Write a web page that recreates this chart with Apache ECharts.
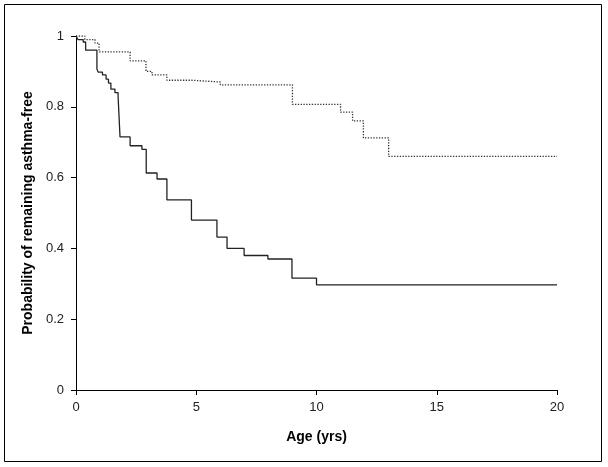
<!DOCTYPE html>
<html>
<head>
<meta charset="utf-8">
<script src="https://cdn.jsdelivr.net/npm/echarts@6/dist/echarts.min.js"></script>
<style>html,body{margin:0;padding:0;background:#fff;}#c{width:608px;height:467px;}</style>
</head>
<body>
<div id="c"></div>
<script>
// Kaplan-Meier style step curves: time (yrs) and survival probability
const solidTimes = [0, 0.08, 0.3, 0.4, 0.87, 0.92, 1.1, 1.25, 1.35, 1.45, 1.62, 1.75, 1.83, 2.25, 2.74, 2.92, 3.37, 3.78, 4.8, 5.86, 6.28, 6.99, 7.98, 8.98, 10.0, 20];
const solidSurv  = [1, 0.99, 0.983, 0.96, 0.907, 0.898, 0.89, 0.878, 0.867, 0.85, 0.84, 0.83, 0.715, 0.69, 0.68, 0.613, 0.596, 0.537, 0.48, 0.432, 0.40, 0.38, 0.37, 0.316, 0.297, 0.297];
const dottedTimes = [0, 0.37, 0.79, 0.96, 2.25, 2.91, 3.16, 3.78, 4.82, 6.0, 9.0, 11.0, 11.5, 11.95, 13.0, 20];
const dottedSurv  = [1, 0.99, 0.98, 0.955, 0.93, 0.90, 0.89, 0.875, 0.87, 0.862, 0.807, 0.785, 0.76, 0.712, 0.66, 0.66];
const xTicks = [0, 5, 10, 15, 20];
const yTicks = [0, 0.2, 0.4, 0.6, 0.8, 1];

const zip = (a, b) => a.map((v, i) => [v, b[i]]);
const FONT = '"Liberation Sans", Arial, sans-serif';

const chart = echarts.init(document.getElementById('c'), null, {renderer: 'canvas'});
chart.setOption({
  animation: false,
  backgroundColor: '#fff',
  grid: {left: 76, right: 51, top: 36, bottom: 77, containLabel: false},
  graphic: [{
    type: 'rect', silent: true,
    shape: {x: 4.5, y: 4.5, width: 597, height: 457},
    style: {fill: 'none', stroke: '#000', lineWidth: 1}
  }],
  xAxis: {
    type: 'value', min: xTicks[0], max: xTicks[xTicks.length - 1], interval: 5,
    name: 'Age (yrs)', nameLocation: 'middle', nameGap: 40,
    nameTextStyle: {fontFamily: FONT, fontSize: 14, fontWeight: 'bold', color: '#000'},
    axisLine: {show: true, lineStyle: {color: '#000', width: 1}},
    axisTick: {show: true, inside: false, length: 5, lineStyle: {color: '#000'}},
    axisLabel: {fontFamily: FONT, fontSize: 13, color: '#222', margin: 11},
    splitLine: {show: false}
  },
  yAxis: {
    type: 'value', min: yTicks[0], max: yTicks[yTicks.length - 1], interval: 0.2,
    name: 'Probability of remaining asthma-free', nameLocation: 'middle', nameGap: 41,
    nameTextStyle: {fontFamily: FONT, fontSize: 14, fontWeight: 'bold', color: '#000'},
    axisLine: {show: true, lineStyle: {color: '#000', width: 1}},
    axisTick: {show: true, inside: false, length: 5, lineStyle: {color: '#000'}},
    axisLabel: {fontFamily: FONT, fontSize: 13, color: '#222', margin: 12},
    splitLine: {show: false}
  },
  series: [
    {
      type: 'line', step: 'end', symbol: 'none',
      data: zip(dottedTimes, dottedSurv),
      lineStyle: {color: '#333', width: 1.3, type: [1.3, 1.5]}
    },
    {
      type: 'line', step: 'end', symbol: 'none',
      data: zip(solidTimes, solidSurv),
      lineStyle: {color: '#222', width: 1.3, type: 'solid'}
    }
  ]
});
</script>
</body>
</html>
